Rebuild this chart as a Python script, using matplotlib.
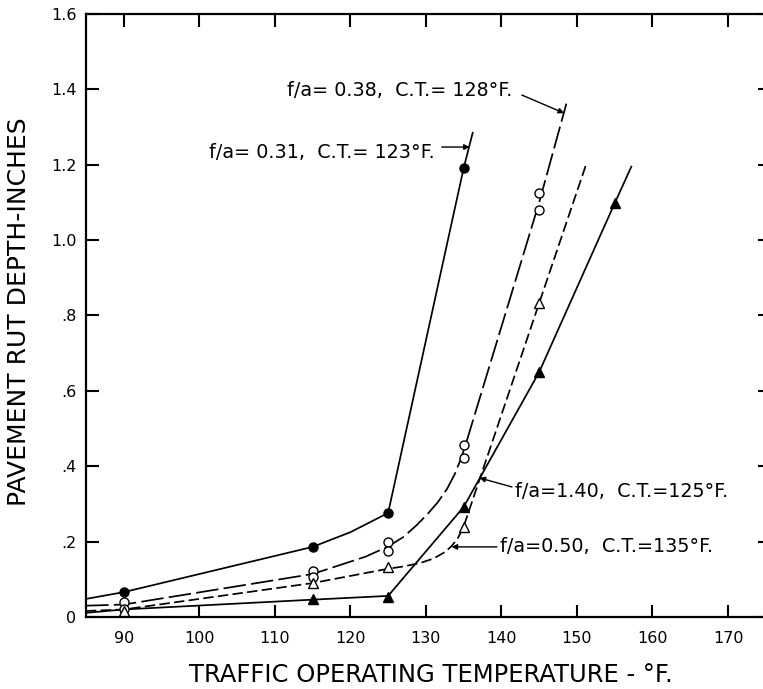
import numpy as np
import matplotlib
matplotlib.use("Agg")
import matplotlib.pyplot as plt
from matplotlib.ticker import FuncFormatter

# ---------- data ----------
# measured points (temperature F, rut depth in.)
fc_x = [90, 115, 125, 135]                       # f/a = 0.31 (filled circles)
fc_y = [0.066, 0.186, 0.276, 1.191]
oc_x = [90, 90, 115, 115, 125, 125, 135, 135, 145, 145]   # f/a = 0.38 (open circles)
oc_y = [0.040, 0.020, 0.122, 0.106, 0.199, 0.175, 0.456, 0.422, 1.125, 1.080]
ot_x = [90, 115, 125, 135, 145]                   # f/a = 0.50 (open triangles)
ot_y = [0.015, 0.090, 0.133, 0.239, 0.833]
ft_x = [115, 125, 135, 145, 155]                  # f/a = 1.40 (filled triangles)
ft_y = [0.048, 0.053, 0.292, 0.650, 1.098]

# hand-drawn fitted curves (vertices)
fc_cx = [85, 90, 115, 120, 125, 135, 136.2]
fc_cy = [0.048, 0.066, 0.186, 0.225, 0.276, 1.191, 1.285]
oc_cx = [85, 90, 115, 122, 125, 127, 128.8, 130.3, 131.6, 132.8, 133.8, 134.6,
         135.3, 145, 148.6]
oc_cy = [0.030, 0.033, 0.114, 0.160, 0.187, 0.212, 0.244, 0.275, 0.305, 0.340,
         0.378, 0.418, 0.460, 1.100, 1.362]
ot_cx = [85, 90, 115, 125, 127, 129.2, 131, 132.5, 133.4, 134.2, 135, 145, 151.3]
ot_cy = [0.016, 0.020, 0.090, 0.128, 0.134, 0.143, 0.155, 0.172, 0.188, 0.208,
         0.240, 0.833, 1.206]
ft_cx = [85, 90, 115, 125, 135, 145, 155, 157.2]
ft_cy = [0.011, 0.020, 0.046, 0.056, 0.292, 0.650, 1.098, 1.195]

x_ticks = [90, 100, 110, 120, 130, 140, 150, 160, 170]
y_ticks = [0, 0.2, 0.4, 0.6, 0.8, 1.0, 1.2, 1.4, 1.6]

labels = ["f/a= 0.31,  C.T.= 123°F.",
          "f/a= 0.38,  C.T.= 128°F.",
          "f/a=1.40,  C.T.=125°F.",
          "f/a=0.50,  C.T.=135°F."]

# ---------- figure ----------
plt.rcParams['font.family'] = ['DejaVu Sans']
fig = plt.figure(figsize=(7.63, 6.89), dpi=100)
# right spine sits just past the image edge, as in the scan
ax = fig.add_axes([0.1127, 0.1045, 0.8965, 0.8752])

lw = 1.25
ax.plot(fc_cx, fc_cy, color='k', lw=lw)
ax.plot(oc_cx, oc_cy, color='k', lw=lw, dashes=(13, 3))
ax.plot(ot_cx, ot_cy, color='k', lw=lw, dashes=(6, 2.5))
ax.plot(ft_cx, ft_cy, color='k', lw=lw)

ax.plot(fc_x, fc_y, 'o', color='k', ms=6.5, zorder=3)
ax.plot(oc_x, oc_y, 'o', mfc='white', mec='k', mew=1.0, ms=6.5, zorder=3)
ax.plot(ot_x, ot_y, '^', mfc='white', mec='k', mew=1.0, ms=7, zorder=3)
ax.plot(ft_x, ft_y, '^', color='k', ms=7, zorder=3)

ax.set_xlim(85, 175.56)
ax.set_ylim(0, 1.6)
ax.set_xticks(x_ticks)
ax.set_yticks(y_ticks)


def yfmt(v, pos):
    if abs(v) < 1e-9:
        return "0"
    s = f"{v:.1f}"
    return s[1:] if s.startswith("0") else s


ax.yaxis.set_major_formatter(FuncFormatter(yfmt))
ax.tick_params(direction='in', length=9, width=1.5, top=True, right=True,
               labelsize=11.5)
ax.tick_params(axis='x', pad=10)
ax.tick_params(axis='y', pad=7)
for sp in ax.spines.values():
    sp.set_linewidth(1.6)
    sp.set_clip_on(False)

ax.set_xlabel("TRAFFIC OPERATING TEMPERATURE - °F.", fontsize=17.5)
ax.set_ylabel("PAVEMENT RUT DEPTH-INCHES", fontsize=18)
ax.xaxis.set_label_coords(0.504, -0.076)
ax.yaxis.set_label_coords(-0.081, 0.507)

# curve labels with leader arrows
fs = 13.8
arrow = dict(arrowstyle='-|>', color='k', lw=1.0, mutation_scale=8,
             shrinkA=0, shrinkB=0)
ax.text(131.2, 1.233, labels[0], fontsize=fs, ha='right', va='center')
ax.annotate('', xy=(135.8, 1.247), xytext=(132.1, 1.247), arrowprops=arrow)
ax.text(141.5, 1.398, labels[1], fontsize=fs, ha='right', va='center')
ax.annotate('', xy=(148.3, 1.337), xytext=(142.7, 1.385), arrowprops=arrow)
ax.text(141.8, 0.332, labels[2], fontsize=fs, ha='left', va='center')
ax.annotate('', xy=(137.1, 0.369), xytext=(141.4, 0.345), arrowprops=arrow)
ax.text(139.8, 0.186, labels[3], fontsize=fs, ha='left', va='center')
ax.annotate('', xy=(133.4, 0.186), xytext=(139.4, 0.186), arrowprops=arrow)

fig.savefig("out.png", dpi=100)
